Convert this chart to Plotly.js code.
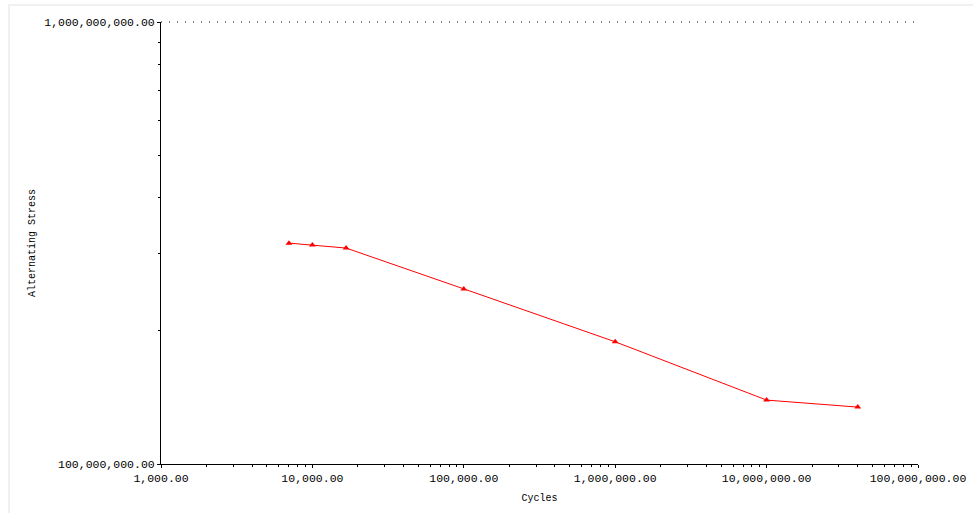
<!DOCTYPE html>
<html><head><meta charset="utf-8">
<script src="https://cdn.plot.ly/plotly-3.0.1.min.js"></script>
<style>
html,body{margin:0;padding:0;background:#fff;}
#wrap{position:relative;width:973px;height:513px;}
#chart{width:973px;height:513px;}
#frameTop{position:absolute;left:8px;top:4px;width:965px;height:2px;background:#f0f0f0;}
#frameLeft{position:absolute;left:8px;top:4px;width:2px;height:509px;background:#f0f0f0;}
</style></head>
<body><div id="wrap"><div id="chart"></div><div id="frameTop"></div><div id="frameLeft"></div></div>
<script>
var cycles = [7000, 10000, 16700, 100000, 1000000, 10000000, 40000000];
var stress = [3.16e8, 3.13e8, 3.08e8, 2.49e8, 1.89e8, 1.395e8, 1.345e8];
var xTickVals = [1e3, 1e4, 1e5, 1e6, 1e7, 1e8];
var xTickText = ["1,000.00", "10,000.00", "100,000.00", "1,000,000.00", "10,000,000.00", "100,000,000.00"];
var yTickVals = [1e8, 1e9];
var yTickText = ["100,000,000.00", "1,000,000,000.00"];

var mono = "Liberation Mono, DejaVu Sans Mono, monospace";
var trace = {
  x: cycles, y: stress, type: 'scatter', mode: 'lines+markers',
  line: {color: '#ff0000', width: 1},
  marker: {symbol: 'triangle-up', size: 6, color: '#ff0000'},
  hoverinfo: 'x+y'
};
var layout = {
  width: 973, height: 513,
  margin: {l: 161, r: 55, t: 22, b: 49},
  paper_bgcolor: '#fff', plot_bgcolor: '#fff',
  showlegend: false,
  shapes: [{type: 'line', xref: 'paper', yref: 'paper', x0: 0, x1: 1, y0: 1, y1: 1,
            line: {color: '#000', width: 1, dash: '1px,7px'}, layer: 'above'}],
  xaxis: {
    type: 'log', range: [3, 8],
    tickvals: xTickVals, ticktext: xTickText,
    ticks: 'outside', ticklen: 3, tickcolor: '#000',
    showline: true, linecolor: '#000', linewidth: 1,
    showgrid: false, zeroline: false,
    minor: {ticks: 'outside', ticklen: 2, tickcolor: '#000', dtick: 'D1', showgrid: false},
    tickfont: {family: mono, size: 11.5, color: '#000'},
    title: {text: 'Cycles', font: {family: mono, size: 10, color: '#000'}, standoff: 10}
  },
  yaxis: {
    type: 'log', range: [8, 9],
    tickvals: yTickVals, ticktext: yTickText,
    ticks: 'outside', ticklen: 3, tickcolor: '#000',
    showline: true, linecolor: '#000', linewidth: 1,
    showgrid: false, zeroline: false,
    minor: {ticks: 'outside', ticklen: 2, tickcolor: '#000', dtick: 'D1', showgrid: false},
    tickfont: {family: mono, size: 11.5, color: '#000'},
    title: {text: 'Alternating Stress', font: {family: mono, size: 10, color: '#000'}, standoff: 6}
  }
};
Plotly.newPlot('chart', [trace], layout, {displayModeBar: false, staticPlot: true});
</script></body></html>
